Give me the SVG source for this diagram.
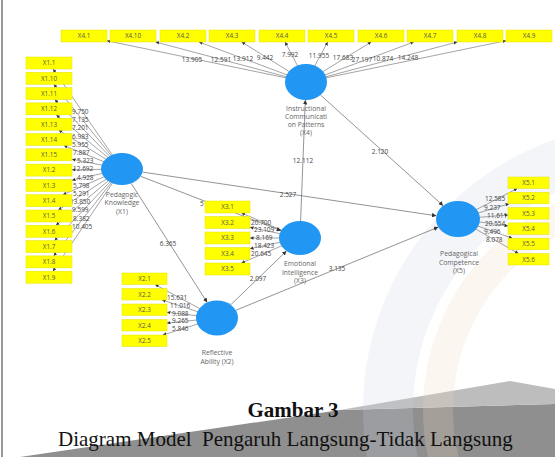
<svg xmlns="http://www.w3.org/2000/svg" width="555" height="457" viewBox="0 0 555 457">
<style>
.box{fill:#ffff00;stroke:#e2e200;stroke-width:0.5}
.bt{font-family:"Open Sans","Liberation Sans",sans-serif;font-size:6.3px;fill:#555;text-anchor:middle}
.val{font-family:"Open Sans","Liberation Sans",sans-serif;font-size:6.5px;fill:#444}
.vm{text-anchor:middle}
.lv{fill:#2196f3}
.lt{font-family:"Open Sans","Liberation Sans",sans-serif;font-size:6.8px;fill:#666;text-anchor:middle}
.ln{stroke:#666;stroke-width:0.6;fill:none;marker-end:url(#ar)}
.sp{stroke:#666;stroke-width:0.7;fill:none;marker-end:url(#ar2)}
.cap{font-family:"Liberation Serif","Times New Roman",serif;font-size:21px;fill:#111}
</style>
<defs>
<marker id="ar" viewBox="0 0 6 6" refX="6" refY="3" markerWidth="3.5" markerHeight="3.5" markerUnits="userSpaceOnUse" orient="auto"><path d="M0,0 L6,3 L0,6 z" fill="#333"/></marker>
<marker id="ar2" viewBox="0 0 6 6" refX="6" refY="3" markerWidth="4.5" markerHeight="4.5" markerUnits="userSpaceOnUse" orient="auto"><path d="M0,0 L6,3 L0,6 z" fill="#333"/></marker>
</defs>
<rect width="555" height="457" fill="#fff"/>
<g id="background">
<polygon points="20,457 340,410 555,404 555,457" fill="#8f8f8f"/>
<polygon points="340,410 510,381 555,389 555,404" fill="#bdbdbd"/>
<circle cx="650" cy="410" r="262" fill="none" stroke="#c8d2e0" stroke-width="50" opacity="0.22"/>
<circle cx="650" cy="410" r="212" fill="none" stroke="#f3d4bc" stroke-width="30" opacity="0.22"/>
<line x1="2" y1="0" x2="2" y2="457" stroke="#777" stroke-width="1.5"/>
</g>
<g id="connectors">
<line class="ln" x1="306" y1="82" x2="107" y2="40.8"/>
<line class="ln" x1="306" y1="82" x2="155.6" y2="42"/>
<line class="ln" x1="306" y1="82" x2="199" y2="42"/>
<line class="ln" x1="306" y1="82" x2="241.7" y2="42"/>
<line class="ln" x1="306" y1="82" x2="285.1" y2="42"/>
<line class="ln" x1="306" y1="82" x2="327.7" y2="42"/>
<line class="ln" x1="306" y1="82" x2="371.2" y2="42"/>
<line class="ln" x1="306" y1="82" x2="413.8" y2="42"/>
<line class="ln" x1="306" y1="82" x2="457.3" y2="42"/>
<line class="ln" x1="306" y1="82" x2="506" y2="40.7"/>
<line class="ln" x1="122" y1="169" x2="53.1" y2="69"/>
<line class="ln" x1="122" y1="169" x2="53.8" y2="84.3"/>
<line class="ln" x1="122" y1="169" x2="54.8" y2="99.6"/>
<line class="ln" x1="122" y1="169" x2="56.3" y2="114.9"/>
<line class="ln" x1="122" y1="169" x2="58.8" y2="130.2"/>
<line class="ln" x1="122" y1="169" x2="63.8" y2="145.5"/>
<line class="ln" x1="122" y1="169" x2="72" y2="159.3"/>
<line class="ln" x1="122" y1="169" x2="72" y2="169.8"/>
<line class="ln" x1="122" y1="169" x2="72" y2="180.2"/>
<line class="ln" x1="122" y1="169" x2="62.8" y2="194.7"/>
<line class="ln" x1="122" y1="169" x2="58.3" y2="210"/>
<line class="ln" x1="122" y1="169" x2="56" y2="225.3"/>
<line class="ln" x1="122" y1="169" x2="54.6" y2="240.6"/>
<line class="ln" x1="122" y1="169" x2="53.7" y2="255.9"/>
<line class="ln" x1="122" y1="169" x2="53" y2="271.2"/>
<line class="ln" x1="300" y1="238" x2="241.5" y2="213"/>
<line class="ln" x1="300" y1="238" x2="250" y2="227.3"/>
<line class="ln" x1="300" y1="238" x2="250" y2="238"/>
<line class="ln" x1="300" y1="238" x2="250" y2="248.7"/>
<line class="ln" x1="300" y1="238" x2="241.5" y2="263"/>
<line class="ln" x1="458" y1="219" x2="517.3" y2="188.5"/>
<line class="ln" x1="458" y1="219" x2="509.1" y2="203.8"/>
<line class="ln" x1="458" y1="219" x2="508" y2="215"/>
<line class="ln" x1="458" y1="219" x2="508" y2="225.9"/>
<line class="ln" x1="458" y1="219" x2="512.3" y2="238.2"/>
<line class="ln" x1="458" y1="219" x2="518.4" y2="253.5"/>
<line class="ln" x1="217" y1="318" x2="155.1" y2="284.5"/>
<line class="ln" x1="217" y1="318" x2="162.1" y2="300"/>
<line class="ln" x1="217" y1="318" x2="167" y2="312.3"/>
<line class="ln" x1="217" y1="318" x2="167" y2="323"/>
<line class="ln" x1="217" y1="318" x2="162.8" y2="335"/>
<line class="sp" x1="140.7" y1="176.3" x2="281.1" y2="230.7"/>
<line class="sp" x1="142.6" y1="172.1" x2="436.4" y2="215.8"/>
<line class="sp" x1="131.2" y1="183.4" x2="207.2" y2="302.5"/>
<line class="sp" x1="230.7" y1="304.8" x2="286.5" y2="251"/>
<line class="sp" x1="235.8" y1="310.3" x2="438.3" y2="227.1"/>
<line class="sp" x1="300.6" y1="221" x2="305.3" y2="100"/>
<line class="sp" x1="320.5" y1="95" x2="443.2" y2="205.7"/>
<g class="val vm">
<text x="192" y="61.5">13.905</text>
<text x="221" y="62">12.591</text>
<text x="243" y="61">13.912</text>
<text x="265" y="60">9.442</text>
<text x="290" y="57">7.992</text>
<text x="319" y="57.5">11.955</text>
<text x="343" y="59.5">17.683</text>
<text x="362" y="61.5">27.197</text>
<text x="383" y="61">10.874</text>
<text x="408" y="60">14.248</text>
<text x="288" y="196.5">2.527</text>
<text x="168" y="245.5">6.365</text>
<text x="303" y="162.5">12.112</text>
<text x="380" y="153.5">2.120</text>
<text x="258" y="280.5">2.097</text>
<text x="337" y="270.5">3.135</text>
</g>
<g class="val">
<text x="72" y="114">9.750</text>
<text x="72" y="122.2">7.135</text>
<text x="72" y="130.4">7.201</text>
<text x="72" y="138.6">6.983</text>
<text x="72" y="146.8">5.955</text>
<text x="73" y="155">7.887</text>
<text x="77" y="163.2">5.323</text>
<text x="73" y="171.4">12.692</text>
<text x="77" y="179.6">4.928</text>
<text x="73" y="187.8">5.798</text>
<text x="73" y="196">5.291</text>
<text x="70" y="204.2">13.850</text>
<text x="72" y="212.4">9.599</text>
<text x="73" y="220.6">8.382</text>
<text x="72" y="228.8">10.405</text>
<text x="200" y="206">5</text>
<text x="251" y="224.5">20.700</text>
<text x="254" y="232">23.109</text>
<text x="256" y="240">8.169</text>
<text x="254" y="247.8">18.423</text>
<text x="251" y="255.5">20.645</text>
<text x="485" y="201">12.585</text>
<text x="484" y="209.5">9.237</text>
<text x="487" y="217.5">11.611</text>
<text x="485" y="225.5">20.554</text>
<text x="484" y="233.5">9.496</text>
<text x="486" y="242">8.078</text>
<text x="167" y="299.5">15.631</text>
<text x="170" y="307.5">11.016</text>
<text x="172" y="315.5">9.088</text>
<text x="172" y="323.2">9.265</text>
<text x="172" y="331">5.846</text>
</g>
</g>
<g id="X4-indicators">
<rect class="box" x="61" y="30" width="46" height="12"/><text class="bt" x="84" y="38.3">X4.1</text>
<rect class="box" x="110" y="30" width="46" height="12"/><text class="bt" x="133" y="38.3">X4.10</text>
<rect class="box" x="160" y="30" width="46" height="12"/><text class="bt" x="183" y="38.3">X4.2</text>
<rect class="box" x="209" y="30" width="46" height="12"/><text class="bt" x="232" y="38.3">X4.3</text>
<rect class="box" x="259" y="30" width="46" height="12"/><text class="bt" x="282" y="38.3">X4.4</text>
<rect class="box" x="308" y="30" width="46" height="12"/><text class="bt" x="331" y="38.3">X4.5</text>
<rect class="box" x="358" y="30" width="46" height="12"/><text class="bt" x="381" y="38.3">X4.6</text>
<rect class="box" x="407" y="30" width="46" height="12"/><text class="bt" x="430" y="38.3">X4.7</text>
<rect class="box" x="457" y="30" width="46" height="12"/><text class="bt" x="480" y="38.3">X4.8</text>
<rect class="box" x="506" y="30" width="46" height="12"/><text class="bt" x="529" y="38.3">X4.9</text>
</g>
<g id="X1-indicators">
<rect class="box" x="26" y="57" width="46" height="12"/><text class="bt" x="49" y="65.3">X1.1</text>
<rect class="box" x="26" y="72.3" width="46" height="12"/><text class="bt" x="49" y="80.6">X1.10</text>
<rect class="box" x="26" y="87.6" width="46" height="12"/><text class="bt" x="49" y="95.9">X1.11</text>
<rect class="box" x="26" y="102.9" width="46" height="12"/><text class="bt" x="49" y="111.2">X1.12</text>
<rect class="box" x="26" y="118.2" width="46" height="12"/><text class="bt" x="49" y="126.5">X1.13</text>
<rect class="box" x="26" y="133.5" width="46" height="12"/><text class="bt" x="49" y="141.8">X1.14</text>
<rect class="box" x="26" y="148.8" width="46" height="12"/><text class="bt" x="49" y="157.1">X1.15</text>
<rect class="box" x="26" y="164.1" width="46" height="12"/><text class="bt" x="49" y="172.4">X1.2</text>
<rect class="box" x="26" y="179.4" width="46" height="12"/><text class="bt" x="49" y="187.7">X1.3</text>
<rect class="box" x="26" y="194.7" width="46" height="12"/><text class="bt" x="49" y="203">X1.4</text>
<rect class="box" x="26" y="210" width="46" height="12"/><text class="bt" x="49" y="218.3">X1.5</text>
<rect class="box" x="26" y="225.3" width="46" height="12"/><text class="bt" x="49" y="233.6">X1.6</text>
<rect class="box" x="26" y="240.6" width="46" height="12"/><text class="bt" x="49" y="248.9">X1.7</text>
<rect class="box" x="26" y="255.9" width="46" height="12"/><text class="bt" x="49" y="264.2">X1.8</text>
<rect class="box" x="26" y="271.2" width="46" height="12"/><text class="bt" x="49" y="279.5">X1.9</text>
</g>
<g id="X3-indicators">
<rect class="box" x="205" y="201" width="45" height="12"/><text class="bt" x="227.5" y="209.3">X3.1</text>
<rect class="box" x="205" y="216.5" width="45" height="12"/><text class="bt" x="227.5" y="224.8">X3.2</text>
<rect class="box" x="205" y="232" width="45" height="12"/><text class="bt" x="227.5" y="240.3">X3.3</text>
<rect class="box" x="205" y="247.5" width="45" height="12"/><text class="bt" x="227.5" y="255.8">X3.4</text>
<rect class="box" x="205" y="263" width="45" height="12"/><text class="bt" x="227.5" y="271.3">X3.5</text>
</g>
<g id="X5-indicators">
<rect class="box" x="508" y="177" width="41" height="11.5"/><text class="bt" x="528.5" y="185">X5.1</text>
<rect class="box" x="508" y="192.3" width="41" height="11.5"/><text class="bt" x="528.5" y="200.3">X5.2</text>
<rect class="box" x="508" y="207.6" width="41" height="11.5"/><text class="bt" x="528.5" y="215.6">X5.3</text>
<rect class="box" x="508" y="222.9" width="41" height="11.5"/><text class="bt" x="528.5" y="230.9">X5.4</text>
<rect class="box" x="508" y="238.2" width="41" height="11.5"/><text class="bt" x="528.5" y="246.2">X5.5</text>
<rect class="box" x="508" y="253.5" width="41" height="11.5"/><text class="bt" x="528.5" y="261.5">X5.6</text>
</g>
<g id="X2-indicators">
<rect class="box" x="122" y="273" width="45" height="11.5"/><text class="bt" x="144.5" y="281">X2.1</text>
<rect class="box" x="122" y="288.5" width="45" height="11.5"/><text class="bt" x="144.5" y="296.5">X2.2</text>
<rect class="box" x="122" y="304" width="45" height="11.5"/><text class="bt" x="144.5" y="312">X2.3</text>
<rect class="box" x="122" y="319.5" width="45" height="11.5"/><text class="bt" x="144.5" y="327.5">X2.4</text>
<rect class="box" x="122" y="335" width="45" height="11.5"/><text class="bt" x="144.5" y="343">X2.5</text>
</g>
<g id="X4">
<ellipse class="lv" cx="306" cy="82" rx="21" ry="18"/>
<text class="lt" x="306" y="110.5">Instructional</text>
<text class="lt" x="306" y="118.5">Communicati</text>
<text class="lt" x="306" y="126.5">on Patterns</text>
<text class="lt" x="306" y="134.5">(X4)</text>
</g>
<g id="X1">
<ellipse class="lv" cx="122" cy="169" rx="21" ry="16"/>
<text class="lt" x="122" y="196.5">Pedagogic</text>
<text class="lt" x="122" y="205">Knowledge</text>
<text class="lt" x="122" y="213.5">(X1)</text>
</g>
<g id="X3">
<ellipse class="lv" cx="300" cy="238" rx="21" ry="17"/>
<text class="lt" x="300" y="265.5">Emotional</text>
<text class="lt" x="300" y="274.5">Intelligence</text>
<text class="lt" x="300" y="282.5">(X3)</text>
</g>
<g id="X5">
<ellipse class="lv" cx="458" cy="219" rx="22" ry="18"/>
<text class="lt" x="459" y="256">Pedagogical</text>
<text class="lt" x="459" y="264.5">Competence</text>
<text class="lt" x="459" y="272.5">(X5)</text>
</g>
<g id="X2">
<ellipse class="lv" cx="217" cy="318" rx="21" ry="17.5"/>
<text class="lt" x="217" y="354.5">Reflective</text>
<text class="lt" x="217" y="363.5">Ability (X2)</text>
</g>
<g id="caption">
<text class="cap" x="293" y="417" text-anchor="middle" font-weight="bold">Gambar 3</text>
<text class="cap" x="58" y="446" xml:space="preserve">Diagram Model  Pengaruh Langsung-Tidak Langsung</text>
</g>
</svg>
